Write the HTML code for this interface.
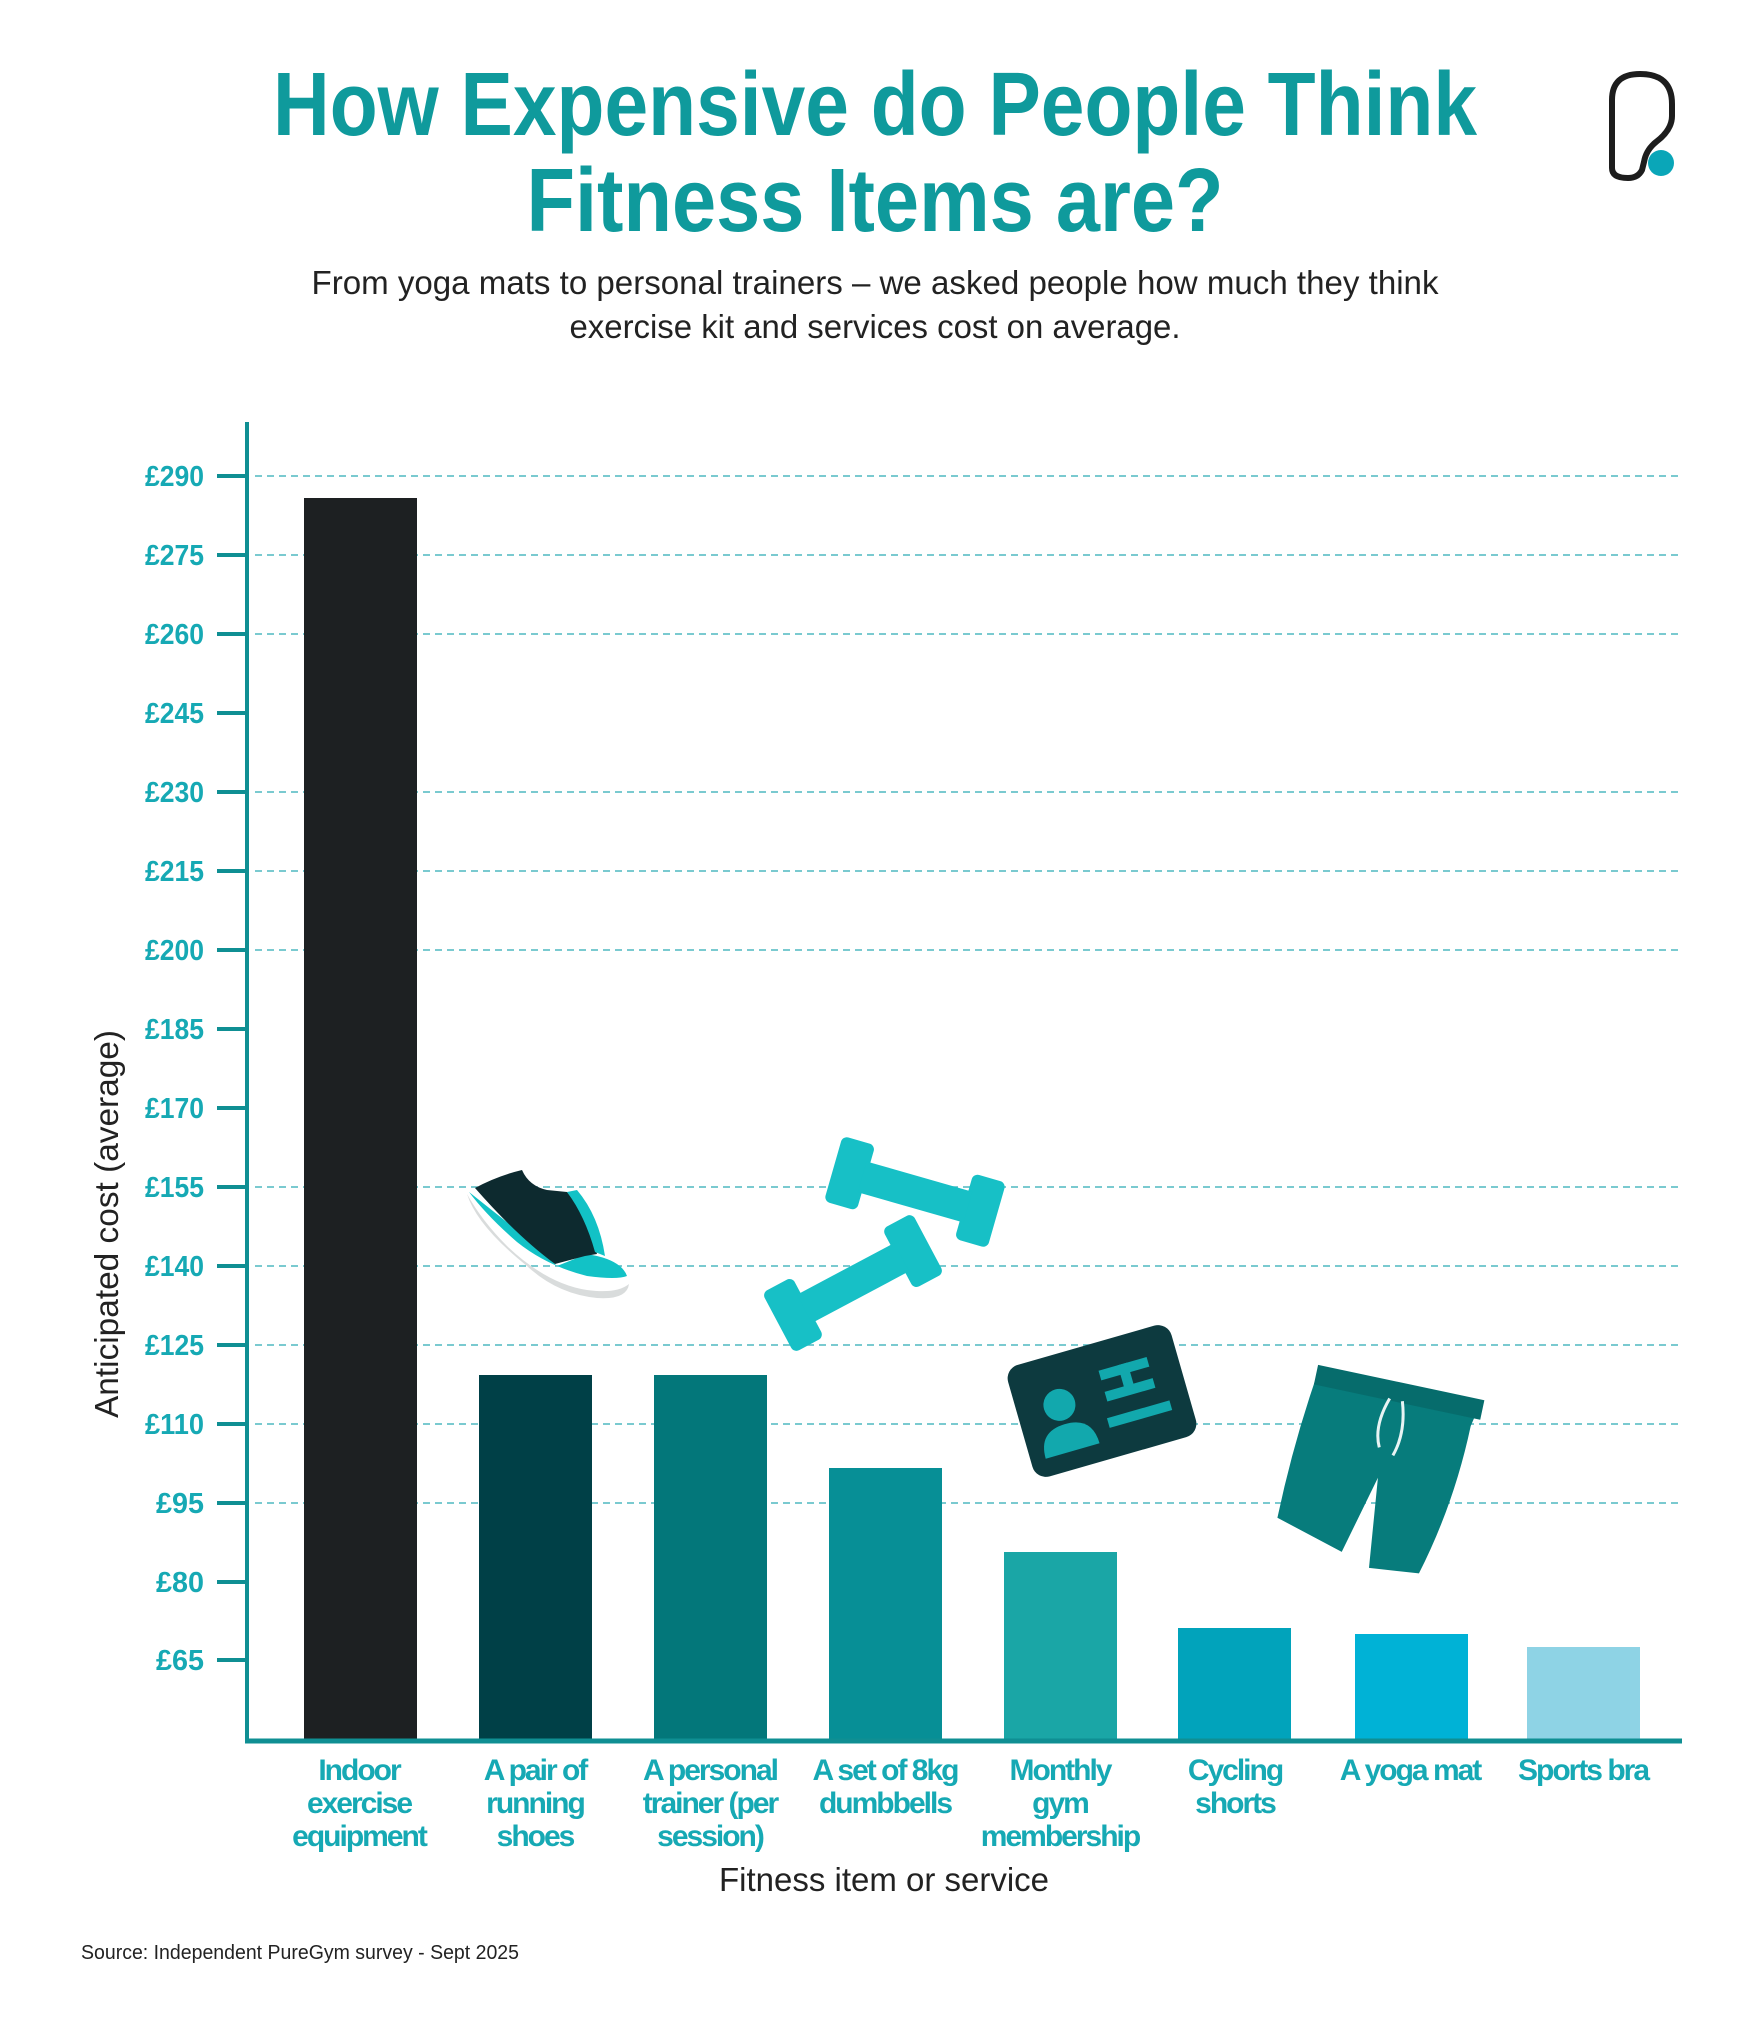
<!DOCTYPE html>
<html><head><meta charset="utf-8"><style>
html,body{margin:0;padding:0;background:#fff}
svg{display:block}
text{font-family:"Liberation Sans",sans-serif}
</style></head><body>
<svg width="1754" height="2028" viewBox="0 0 1754 2028" xmlns="http://www.w3.org/2000/svg">
<rect width="1754" height="2028" fill="#fff"/>
<!-- title -->
<text x="875" y="135" text-anchor="middle" font-size="90" font-weight="bold" fill="#0f9a9c" textLength="1204" lengthAdjust="spacingAndGlyphs">How Expensive do People Think</text>
<text x="875" y="231" text-anchor="middle" font-size="90" font-weight="bold" fill="#0f9a9c" textLength="697" lengthAdjust="spacingAndGlyphs">Fitness Items are?</text>
<text x="875" y="294" text-anchor="middle" font-size="33" fill="#222" textLength="1127" lengthAdjust="spacingAndGlyphs">From yoga mats to personal trainers – we asked people how much they think</text>
<text x="875" y="338" text-anchor="middle" font-size="33" fill="#222" textLength="611" lengthAdjust="spacingAndGlyphs">exercise kit and services cost on average.</text>
<!-- logo -->
<path d="M1612 168 L1612 100 Q1612 74 1640 74 Q1672 74 1672 104 L1672 116 Q1672 130 1656 142 Q1646 150 1644 162 L1642 170 Q1638 178 1628 178 Q1612 178 1612 168 Z" fill="none" stroke="#1d1d1d" stroke-width="6" stroke-linejoin="round"/>
<circle cx="1661" cy="163" r="13" fill="#0aa6b8"/>
<g transform="translate(0,5)">
<!-- grid -->
<g stroke="#4fb9c1" stroke-width="1.5" stroke-dasharray="7 5">
<line x1="255" y1="471" x2="1681" y2="471"/>
<line x1="255" y1="550" x2="1681" y2="550"/>
<line x1="255" y1="629" x2="1681" y2="629"/>
<line x1="255" y1="787" x2="1681" y2="787"/>
<line x1="255" y1="866" x2="1681" y2="866"/>
<line x1="255" y1="945" x2="1681" y2="945"/>
<line x1="255" y1="1182" x2="1681" y2="1182"/>
<line x1="255" y1="1261" x2="1681" y2="1261"/>
<line x1="255" y1="1340" x2="1681" y2="1340"/>
<line x1="255" y1="1419" x2="1681" y2="1419"/>
<line x1="255" y1="1498" x2="1681" y2="1498"/>
</g>
<!-- bars -->
<rect x="304" y="493" width="113" height="1242" fill="#1d2022"/>
<rect x="479" y="1370" width="113" height="365" fill="#004047"/>
<rect x="654" y="1370" width="113" height="365" fill="#03777a"/>
<rect x="829" y="1463" width="113" height="272" fill="#078f96"/>
<rect x="1004" y="1547" width="113" height="188" fill="#1aa6a6"/>
<rect x="1178" y="1623" width="113" height="112" fill="#01a3bb"/>
<rect x="1355" y="1629" width="113" height="106" fill="#00b2d6"/>
<rect x="1527" y="1642" width="113" height="93" fill="#8ed3e5"/>
<!-- axes -->
<line x1="247" y1="417" x2="247" y2="1737" stroke="#0f8f93" stroke-width="4"/>
<line x1="245" y1="1736" x2="1682" y2="1736" stroke="#0f8f93" stroke-width="5"/>
<g stroke="#0f8f93" stroke-width="4">
<line x1="217" y1="471" x2="245" y2="471"/><line x1="217" y1="550" x2="245" y2="550"/>
<line x1="217" y1="629" x2="245" y2="629"/><line x1="217" y1="708" x2="245" y2="708"/>
<line x1="217" y1="787" x2="245" y2="787"/><line x1="217" y1="866" x2="245" y2="866"/>
<line x1="217" y1="945" x2="245" y2="945"/><line x1="217" y1="1024" x2="245" y2="1024"/>
<line x1="217" y1="1103" x2="245" y2="1103"/><line x1="217" y1="1182" x2="245" y2="1182"/>
<line x1="217" y1="1261" x2="245" y2="1261"/><line x1="217" y1="1340" x2="245" y2="1340"/>
<line x1="217" y1="1419" x2="245" y2="1419"/><line x1="217" y1="1498" x2="245" y2="1498"/>
<line x1="217" y1="1577" x2="245" y2="1577"/><line x1="217" y1="1655" x2="245" y2="1655"/>
</g>
<g font-size="29" font-weight="bold" fill="#16a9b4" text-anchor="end">
<text x="204" y="481" textLength="59" lengthAdjust="spacingAndGlyphs">£290</text>
<text x="204" y="560" textLength="59" lengthAdjust="spacingAndGlyphs">£275</text>
<text x="204" y="639" textLength="59" lengthAdjust="spacingAndGlyphs">£260</text>
<text x="204" y="718" textLength="59" lengthAdjust="spacingAndGlyphs">£245</text>
<text x="204" y="797" textLength="59" lengthAdjust="spacingAndGlyphs">£230</text>
<text x="204" y="876" textLength="59" lengthAdjust="spacingAndGlyphs">£215</text>
<text x="204" y="955" textLength="59" lengthAdjust="spacingAndGlyphs">£200</text>
<text x="204" y="1034" textLength="59" lengthAdjust="spacingAndGlyphs">£185</text>
<text x="204" y="1113" textLength="59" lengthAdjust="spacingAndGlyphs">£170</text>
<text x="204" y="1192" textLength="59" lengthAdjust="spacingAndGlyphs">£155</text>
<text x="204" y="1271" textLength="59" lengthAdjust="spacingAndGlyphs">£140</text>
<text x="204" y="1350" textLength="59" lengthAdjust="spacingAndGlyphs">£125</text>
<text x="204" y="1429" textLength="59" lengthAdjust="spacingAndGlyphs">£110</text>
<text x="204" y="1508" textLength="48" lengthAdjust="spacingAndGlyphs">£95</text>
<text x="204" y="1587" textLength="48" lengthAdjust="spacingAndGlyphs">£80</text>
<text x="204" y="1665" textLength="48" lengthAdjust="spacingAndGlyphs">£65</text>
</g>
<text transform="translate(118,1219) rotate(-90)" text-anchor="middle" font-size="33" fill="#222" textLength="388" lengthAdjust="spacingAndGlyphs">Anticipated cost (average)</text>
<!-- x labels -->
<g font-size="30" font-weight="bold" fill="#16a9b4" text-anchor="middle" letter-spacing="-2">
<text x="359" y="1775">Indoor</text><text x="359" y="1808">exercise</text><text x="359" y="1841">equipment</text>
<text x="535" y="1775">A pair of</text><text x="535" y="1808">running</text><text x="535" y="1841">shoes</text>
<text x="710" y="1775">A personal</text><text x="710" y="1808">trainer (per</text><text x="710" y="1841">session)</text>
<text x="885" y="1775">A set of 8kg</text><text x="885" y="1808">dumbbells</text>
<text x="1060" y="1775">Monthly</text><text x="1060" y="1808">gym</text><text x="1060" y="1841">membership</text>
<text x="1235" y="1775">Cycling</text><text x="1235" y="1808">shorts</text>
<text x="1410" y="1775">A yoga mat</text>
<text x="1583" y="1775">Sports bra</text>
</g>
<text x="884" y="1886" text-anchor="middle" font-size="33" fill="#222" textLength="330" lengthAdjust="spacingAndGlyphs">Fitness item or service</text>
<!-- shoe -->
<g transform="translate(467,1161)">
<path d="M0 28 Q10 60 60 100 Q90 128 130 132 Q160 134 162 118 Q150 128 120 124 Q80 118 40 80 Q15 55 0 28 Z" fill="#d9dcdc"/>
<path d="M2 26 Q20 50 50 76 Q80 100 120 110 Q150 114 160 110 Q155 96 130 90 L120 88 L90 100 L60 72 Z" fill="#12c2c6"/>
<path d="M8 22 Q30 10 55 4 Q62 20 80 24 L100 26 Q120 50 130 88 L118 90 L88 98 Q50 70 8 22 Z" fill="#0d2a2f"/>
<path d="M100 26 Q118 50 128 86 L138 90 Q132 50 110 24 Z" fill="#12c2c6"/>
</g>
<!-- dumbbells -->
<g fill="#17c0c6">
<g transform="translate(915,1187) rotate(16)">
<rect x="-85" y="-34" width="34" height="68" rx="6"/><rect x="51" y="-34" width="34" height="68" rx="6"/>
<rect x="-55" y="-16" width="110" height="32"/>
</g>
<g transform="translate(853,1278) rotate(-28)">
<rect x="-85" y="-34" width="34" height="68" rx="6"/><rect x="51" y="-34" width="34" height="68" rx="6"/>
<rect x="-55" y="-16" width="110" height="32"/>
</g>
</g>
<!-- id card -->
<g transform="translate(1102,1396) rotate(-16)">
<rect x="-85" y="-58" width="170" height="116" rx="14" fill="#0d3a3f"/>
<circle cx="-42" cy="-8" r="16" fill="#12a8ad"/>
<path d="M-70 40 Q-70 12 -42 12 Q-14 12 -14 40 Z" fill="#12a8ad"/>
<rect x="5" y="-30" width="50" height="10" fill="#12a8ad"/>
<rect x="25" y="-30" width="10" height="30" fill="#12a8ad"/>
<rect x="5" y="-8" width="50" height="10" fill="#12a8ad"/>
<rect x="0" y="18" width="65" height="10" fill="#12a8ad"/>
</g>
<!-- shorts -->
<g transform="translate(1380,1463) rotate(12)">
<path d="M-80 -85 L85 -85 L80 -60 Q80 20 60 95 L10 100 L0 10 L-20 90 L-90 70 Q-90 -10 -80 -85 Z" fill="#077c7c"/>
<rect x="-82" y="-88" width="170" height="20" fill="#066c6c"/>
<path d="M-5 -70 Q-15 -40 -5 -20 M8 -70 Q18 -40 10 -15" stroke="#e8f4f4" stroke-width="3" fill="none"/>
</g>
</g>
<text x="81" y="1959" font-size="20" fill="#222" textLength="438" lengthAdjust="spacingAndGlyphs">Source: Independent PureGym survey - Sept 2025</text>
</svg>
</body></html>
